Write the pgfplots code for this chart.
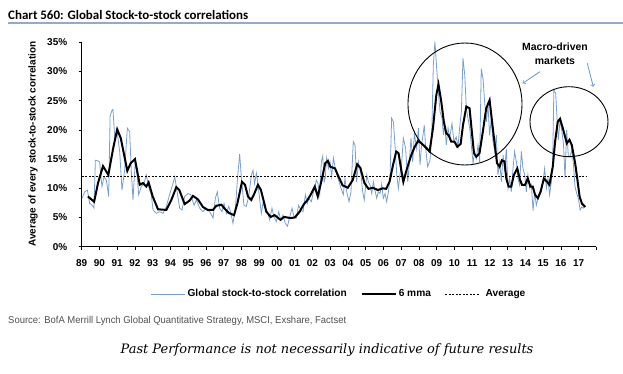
\documentclass[border=0pt]{standalone}
\usepackage{pgfplots}
\pgfplotsset{compat=1.18}
\usepackage{pgfplotstable}
\usepackage{fontspec}
\setmainfont{Liberation Sans}
\newfontfamily\titlefont{Carlito}
\newfontfamily\serifit{DejaVu Serif}
\definecolor{corrblue}{RGB}{120,160,205}
\definecolor{rulegray}{RGB}{150,170,195}
\definecolor{arrowblue}{RGB}{100,150,210}
\definecolor{srcgray}{RGB}{80,80,80}
\pgfplotsset{leglen/.style={legend image code/.code={\draw[##1] (0bp,0bp) -- (#1,0bp); \path (0bp,0bp) -- (#1+3bp,0bp);}},
  leglendash/.style={legend image code/.code={\draw[##1] (0bp,0bp) -- (26bp,0bp); \path (0bp,0bp) -- (34bp,0bp);}}}

\pgfplotstableread{
x y
1989.02 8.3
1989.17 9.4
1989.32 9.7
1989.45 7.4
1989.6 7.1
1989.69 6.6
1989.77 14.8
1989.92 14.7
1990.01 14.5
1990.14 10.3
1990.26 12.0
1990.39 11.4
1990.52 8.6
1990.6 22.3
1990.71 23.4
1990.76 23.5
1990.86 18.8
1991.01 19.4
1991.14 16.3
1991.27 9.7
1991.42 13.1
1991.57 20.3
1991.7 19.7
1991.8 12.6
1991.89 8.0
1992.02 14.8
1992.13 12.0
1992.21 8.9
1992.36 10.3
1992.51 10.8
1992.64 12.3
1992.77 10.3
1992.92 8.9
1993.02 6.3
1993.2 5.7
1993.39 6.0
1993.58 5.7
1993.77 6.9
1993.95 8.9
1994.14 10.8
1994.24 12.0
1994.39 9.1
1994.52 6.6
1994.65 6.3
1994.8 8.6
1994.99 9.1
1995.14 8.9
1995.33 7.1
1995.46 8.0
1995.65 6.6
1995.83 6.0
1996.02 6.6
1996.21 6.0
1996.4 4.9
1996.53 8.3
1996.64 9.4
1996.77 6.6
1996.9 6.0
1997.02 7.4
1997.15 5.7
1997.28 6.9
1997.39 6.0
1997.52 4.0
1997.66 6.6
1997.77 11.4
1997.9 15.9
1997.99 12.0
1998.14 7.1
1998.27 6.9
1998.41 8.6
1998.56 12.3
1998.65 13.1
1998.74 10.8
1998.84 12.6
1998.93 10.8
1999.03 8.0
1999.12 5.7
1999.21 7.4
1999.35 6.6
1999.46 6.0
1999.59 4.6
1999.72 6.6
1999.83 5.1
1999.97 4.3
2000.1 6.0
2000.21 4.6
2000.34 5.4
2000.47 4.0
2000.59 3.5
2000.72 5.1
2000.85 6.6
2000.96 5.1
2001.09 4.9
2001.22 7.1
2001.34 6.3
2001.47 6.0
2001.6 8.9
2001.71 7.4
2001.79 8.3
2001.94 7.7
2002.03 9.1
2002.13 10.0
2002.22 11.4
2002.31 10.8
2002.41 8.9
2002.5 14.5
2002.58 15.5
2002.66 11.1
2002.72 11.7
2002.8 15.2
2002.9 13.4
2002.99 14.5
2003.08 12.0
2003.18 15.2
2003.27 13.7
2003.37 12.3
2003.5 11.1
2003.61 10.0
2003.74 8.9
2003.83 11.7
2003.93 9.4
2004.06 7.7
2004.17 9.4
2004.3 18.0
2004.4 17.4
2004.49 11.1
2004.59 14.5
2004.74 12.3
2004.83 9.4
2004.92 8.0
2005.06 12.3
2005.15 11.1
2005.24 10.6
2005.34 9.1
2005.43 11.1
2005.52 9.7
2005.62 8.3
2005.71 9.4
2005.81 9.1
2005.9 10.8
2005.99 8.3
2006.09 9.1
2006.18 7.7
2006.28 9.4
2006.37 11.7
2006.46 22.0
2006.56 21.4
2006.65 17.4
2006.75 12.3
2006.84 10.0
2006.93 12.3
2007.03 14.5
2007.12 18.6
2007.25 16.8
2007.37 11.1
2007.44 13.7
2007.55 18.6
2007.65 14.5
2007.74 19.4
2007.87 16.8
2007.97 20.3
2008.06 14.0
2008.15 17.4
2008.3 20.8
2008.38 16.8
2008.49 13.7
2008.62 14.8
2008.72 19.1
2008.81 31.1
2008.9 35.1
2009.0 30.5
2009.09 26.6
2009.19 23.1
2009.3 22.0
2009.38 19.1
2009.45 21.4
2009.54 17.4
2009.64 20.3
2009.73 18.6
2009.86 21.1
2009.97 18.0
2010.1 18.8
2010.2 17.1
2010.29 20.3
2010.39 23.1
2010.48 32.3
2010.58 29.4
2010.67 23.7
2010.76 22.0
2010.86 20.3
2010.95 17.4
2011.05 14.3
2011.14 16.3
2011.23 15.1
2011.33 17.4
2011.42 14.5
2011.51 30.5
2011.61 28.8
2011.7 24.8
2011.8 21.4
2011.89 24.3
2011.98 19.1
2012.08 22.0
2012.17 18.0
2012.27 16.3
2012.36 19.1
2012.45 12.3
2012.55 14.5
2012.64 11.1
2012.74 15.7
2012.83 12.8
2012.92 16.8
2013.02 10.0
2013.11 11.7
2013.2 9.4
2013.3 13.4
2013.39 16.3
2013.49 14.5
2013.58 11.7
2013.67 10.6
2013.77 16.3
2013.86 13.4
2013.96 12.3
2014.05 9.4
2014.14 12.3
2014.24 10.0
2014.33 10.6
2014.43 6.2
2014.52 9.4
2014.61 7.1
2014.71 8.3
2014.8 8.9
2014.89 9.4
2014.99 11.1
2015.08 13.4
2015.18 10.0
2015.27 11.7
2015.36 8.9
2015.46 11.1
2015.53 14.0
2015.6 26.8
2015.7 26.3
2015.85 18.3
2015.95 21.7
2016.04 20.0
2016.14 17.7
2016.23 11.7
2016.32 20.0
2016.42 15.4
2016.51 15.4
2016.61 16.6
2016.7 14.3
2016.79 10.3
2016.89 9.1
2016.98 8.3
2017.08 6.3
2017.17 6.8
2017.26 6.6
2017.36 7.1
}\corr

\pgfplotstableread{
x y
1989.35 8.6
1989.7 7.7
1989.92 10.9
1990.2 13.8
1990.5 12.3
1990.77 16.8
1991.0 20.1
1991.2 18.6
1991.57 13.0
1991.76 14.3
1992.0 15.0
1992.27 10.6
1992.45 10.9
1992.64 10.3
1992.77 11.0
1993.0 8.6
1993.3 6.4
1993.77 6.3
1994.05 8.0
1994.33 10.2
1994.5 9.7
1994.8 7.3
1995.08 7.9
1995.27 8.7
1995.55 8.1
1995.83 6.8
1996.1 6.3
1996.4 6.3
1996.58 7.0
1996.87 7.2
1997.0 6.7
1997.28 5.8
1997.58 5.4
1997.77 7.4
1998.03 11.1
1998.2 10.6
1998.37 8.6
1998.55 8.0
1998.7 8.9
1998.93 10.6
1999.1 9.7
1999.4 6.0
1999.65 5.1
1999.87 5.4
2000.2 4.6
2000.4 5.1
2000.77 4.9
2001.0 5.0
2001.28 6.0
2001.52 7.3
2001.7 7.9
2001.9 8.9
2002.13 10.3
2002.3 8.6
2002.54 11.7
2002.72 14.3
2002.87 14.7
2003.0 13.7
2003.27 13.4
2003.47 12.0
2003.7 10.5
2003.99 10.1
2004.27 11.4
2004.52 14.1
2004.7 13.5
2004.93 10.9
2005.16 9.9
2005.4 10.1
2005.68 9.7
2005.97 10.0
2006.15 9.9
2006.34 11.1
2006.54 14.0
2006.72 16.3
2006.85 16.0
2006.99 13.4
2007.12 11.1
2007.29 13.0
2007.42 14.3
2007.57 15.7
2007.76 17.1
2007.95 18.1
2008.14 17.7
2008.36 17.1
2008.6 16.3
2008.79 20.3
2008.98 26.0
2009.1 27.8
2009.26 24.8
2009.4 21.4
2009.54 19.4
2009.67 19.1
2009.82 18.0
2010.0 18.0
2010.16 17.1
2010.35 17.6
2010.48 20.8
2010.67 24.0
2010.85 23.7
2010.98 19.7
2011.1 16.0
2011.23 15.4
2011.41 16.0
2011.6 19.7
2011.79 23.7
2011.98 25.1
2012.1 21.9
2012.25 18.0
2012.4 14.3
2012.54 13.7
2012.67 14.8
2012.82 14.6
2012.92 11.7
2013.05 10.3
2013.2 10.3
2013.35 12.3
2013.54 13.4
2013.67 11.7
2013.8 10.6
2013.98 10.6
2014.13 11.7
2014.28 10.3
2014.41 10.3
2014.54 8.9
2014.7 8.3
2014.85 9.4
2015.04 11.7
2015.22 11.1
2015.35 10.6
2015.54 13.7
2015.67 18.0
2015.82 21.4
2015.95 21.9
2016.13 20.0
2016.33 17.7
2016.48 18.3
2016.61 17.4
2016.8 14.3
2016.93 11.4
2017.05 8.6
2017.18 7.4
2017.37 6.8
}\mma

\begin{document}
\begin{tikzpicture}
\path[use as bounding box] (0bp,0bp) rectangle (623bp,374bp);
\begin{axis}[
  at={(81.7bp,127.3bp)}, anchor=south west,
  scale only axis, width=514.75bp, height=204.4bp,
  xmin=1989, xmax=2018, ymin=0, ymax=35,
  axis lines*=left, clip=false,
  axis line style={black, line width=0.7bp},
  tick align=outside, major tick length=3bp,
  tick style={black, line width=0.7bp},
  xtick={1989,...,2018},
  xticklabels={89,90,91,92,93,94,95,96,97,98,99,00,01,02,03,04,05,06,07,08,09,10,11,12,13,14,15,16,17,{}},
  ytick={0,5,...,35},
  yticklabel={\pgfmathprintnumber{\tick}\%\hspace*{8bp}},
  /pgf/number format/assume math mode=true,
  ticklabel style={font=\bfseries\fontsize{10}{12}\selectfont},
  xticklabel style={yshift=-6bp},
  ylabel={Average of every stock-to-stock correlation},
  ylabel style={at={(axis description cs:-0.0946,0.502)}, anchor=center, font=\bfseries\fontsize{10}{12}\selectfont},
  legend columns=3,
  legend style={draw=none, at={(0.50,-0.231)}, anchor=center, font=\bfseries\fontsize{10.2}{12}\selectfont,
    /tikz/every even column/.append style={column sep=12bp}},
]
\addplot[corrblue, line width=0.8bp, leglen=31bp] table[x=x,y=y] {\corr};
\addlegendentry{Global stock-to-stock correlation}
\addplot[black, line width=2bp, leglen=31bp] table[x=x,y=y] {\mma};
\addlegendentry{6 mma}
\addplot[black, line width=0.7bp, dash pattern=on 2bp off 1.5bp, leglendash] coordinates {(1989,12.1) (2017.4,12.1)};
\addlegendentry{\hspace*{4bp}Average}
\end{axis}

\begin{scope}[x=1bp,y=1bp]
% title
\node[anchor=base west, inner sep=0, font=\titlefont\bfseries\fontsize{13}{15}\selectfont] at (8,355) {Chart 560: Global Stock-to-stock correlations};
\draw[rulegray, line width=1.5bp] (8,351) -- (623,351);
% annotations
\draw[black, line width=0.9bp] (465,270) ellipse [x radius=57, y radius=61];
\draw[black, line width=0.9bp] (569,252.3) ellipse [x radius=39, y radius=35];
\node[align=center, inner sep=0, font=\bfseries\fontsize{10.5}{14.3}\selectfont] at (555,320) {Macro-driven\\markets};
\draw[arrowblue, line width=0.8bp, ->] (540,302.3) -- (522.7,290.7);
\draw[arrowblue, line width=0.8bp, ->] (587.3,310.7) -- (593.3,287.3);

\node[anchor=west, inner sep=0, text=srcgray, font=\fontsize{10}{12}\selectfont] at (8,53) {\scalebox{0.95}[1]{Source: BofA Merrill Lynch Global Quantitative Strategy, MSCI, Exshare, Factset}};
\node[anchor=center, inner sep=0, font=\serifit\itshape\fontsize{13}{15}\selectfont] at (327,24) {Past Performance is not necessarily indicative of future results};
\end{scope}
\end{tikzpicture}
\end{document}
